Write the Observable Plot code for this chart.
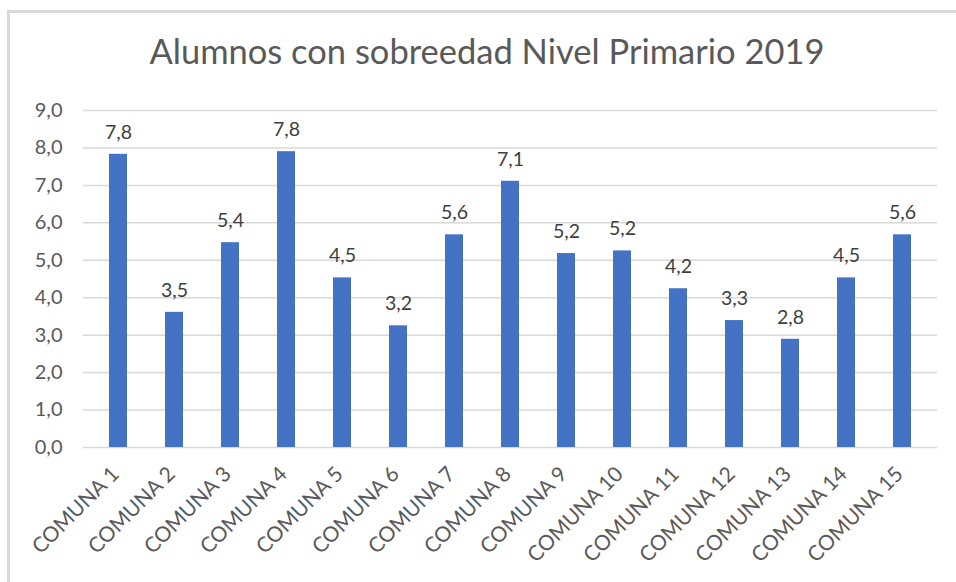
<!DOCTYPE html>
<html>
<head>
<meta charset="utf-8">
<script src="https://cdn.jsdelivr.net/npm/d3@7"></script>
<script src="https://cdn.jsdelivr.net/npm/@observablehq/plot@0.6"></script>
<style>
  html, body { margin: 0; padding: 0; background: #fff; }
  #wrap { position: relative; width: 956px; height: 582px; overflow: hidden; font-family: Lato, "Open Sans", sans-serif; }
  #frame { position: absolute; left: 7px; top: 10px; width: 1000px; height: 700px; border-top: 3px solid #d9d9d9; border-left: 3px solid #d9d9d9; box-sizing: border-box; }
  #title { position: absolute; left: 9px; top: 30px; width: 956px; text-align: center; font-size: 34.5px; color: #595959; line-height: 42px; }
  #chart { position: absolute; left: 0; top: 0; }
</style>
</head>
<body>
<div id="wrap">
  <div id="frame"></div>
  <div id="chart"></div>
  <div id="title">Alumnos con sobreedad Nivel Primario 2019</div>
</div>
<script>
const comunas = ["COMUNA 1","COMUNA 2","COMUNA 3","COMUNA 4","COMUNA 5","COMUNA 6","COMUNA 7","COMUNA 8","COMUNA 9","COMUNA 10","COMUNA 11","COMUNA 12","COMUNA 13","COMUNA 14","COMUNA 15"];
const values = [7.83, 3.61, 5.47, 7.90, 4.53, 3.25, 5.68, 7.11, 5.18, 5.25, 4.24, 3.39, 2.89, 4.53, 5.68];
const labels = ["7,8","3,5","5,4","7,8","4,5","3,2","5,6","7,1","5,2","5,2","4,2","3,3","2,8","4,5","5,6"];
const yTicks = [0,1,2,3,4,5,6,7,8,9];

const data = comunas.map((c, i) => ({comuna: c, value: values[i], label: labels[i]}));
const fmt = d => d.toFixed(1).replace(".", ",");

const chart = Plot.plot({
  width: 956,
  height: 582,
  marginLeft: 83,
  marginRight: 19,
  marginTop: 110,
  marginBottom: 135,
  style: {fontFamily: "Lato, 'Open Sans', sans-serif", background: "transparent"},
  x: {domain: comunas, paddingInner: 0.675, paddingOuter: 0.3375, label: null},
  y: {domain: [0, 9], label: null},
  marks: [
    Plot.ruleY(yTicks, {stroke: "#d9d9d9", strokeWidth: 1.5}),
    Plot.barY(data, {x: "comuna", y: "value", fill: "#4472C4"}),
    Plot.text(data, {x: "comuna", y: "value", text: "label", dy: -22, fontSize: 19.5, fill: "#404040"}),
    Plot.axisY({ticks: yTicks, tickFormat: fmt, tickSize: 0, tickPadding: 21, fontSize: 20, fill: "#595959", label: null}),
    Plot.axisX({tickSize: 0, tickRotate: -45, tickPadding: 17, dy: 6, dx: -3, fontSize: 21, fill: "#595959", label: null})
  ]
});
document.getElementById("chart").appendChild(chart);
</script>
</body>
</html>
